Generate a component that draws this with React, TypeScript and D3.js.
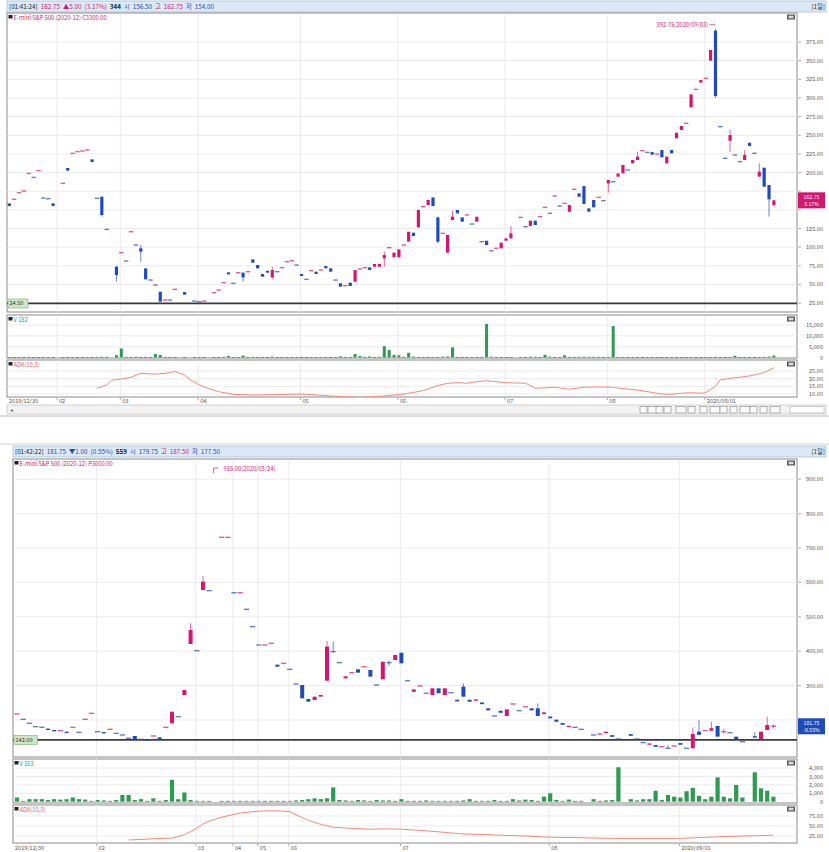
import React from "react";
import * as d3 from "d3";

const UP = "#d3176f";
const DOWN = "#1f4bb8";
const VOLC = "#2f9a52";
const INDC = "#f08a7c";
const GRID = "#e6e6e6";
const FRAME = "#8a8a8a";
const FONT = "'Noto Sans CJK KR', 'DejaVu Sans', sans-serif";

// ---------------- Chart 1 (call) ----------------
const c1Candles: number[][] = [
  [0,158.7,155.1],[1,164.1,164.1],[2,173,173],[3,175.2,175.2],[4,198.9,198.9],[5,193.5,193.5],
  [6,202.5,202.5],[7,165.8,165.8],[8,164.9,164.9],[9,158.7,155.1],[11,185.5,185.5],[12,206.1,202.5],
  [13,225.7,225.7],[14,228,228],[15,228.8,228.8],[16,230.2,230.2],[17,217.7,214.1],[18,165.4,165.4],
  [19,167.6,143.1,168,141],[20,123.8,123.8],[22,73.8,62.6,75,53.7],[23,92.6,92.6],[24,81.4,81.4],
  [25,120.7,120.7],[26,102.8,102.8],[27,98.4,93.9,102.8,80.5],[28,71.6,56.8],[29,55.9,55.9],
  [30,49.2,49.2],[31,40.3,26.9],[32,29.1,29.1],[33,29,29],[34,43.4,43.4],[36,39.8,36.3],
  [38,27.8,27.8],[39,26.9,26.9],[40,27.8,27.8],[42,38.9,38.9],[43,42.5,42.5],[44,52.4,52.4],
  [45,66.2,63.5],[46,51.5,51.5],[47,65.8,65.8],[48,65.8,59.5,65.8,53.7],[49,67.1,67.1],
  [50,83.6,79.1],[51,76,71.6],[52,64,60.4],[53,68.4,65.8],[54,59.5,69.3,73.8,56.8],[55,67.1,67.1],
  [56,72.5,72.5],[57,80.5,80.5],[58,81.8,81.8],[59,76,76],[60,64,61.3],[61,56.8,56.8],
  [62,68.4,68.4],[63,67.1,64],[64,69.3,69.3],[65,74.7,71.6],[66,71.6,67.1],[67,55.9,55.9],
  [68,51.5,47],[69,48.3,48.3],[70,52.4,47.9],[71,53.7,69.3],[72,70.7,70.7],[73,72.5,72.5],
  [74,72.9,69.3],[75,73.8,77.4],[76,73.8,77.4],[77,85,89.4,93.9,73.8],[78,99.3,99.3],
  [79,86.3,92.6],[80,86.3,97],[81,102.8,102.8],[82,107.3,120.7],[83,119.4,114.9],[84,126.5,149.8],
  [85,154.2,154.2],[86,156.5,163.2],[87,166.7,155.1],[88,139.9,107.3,141,105],[89,118.5,118.5],
  [90,92.6,116.3],[91,136.4,140.8,148.9,136.4],[92,149.8,145.3],[93,139.9,134.1],[94,143.1,143.1],
  [95,131,131],[96,134.1,140.8],[97,107.3,107.3],[98,108.6,102.8],[99,95.2,95.2],[100,98.4,98.4],
  [101,98.4,106],[102,108.6,111.8],[103,111.8,118.5,128.3,111.8],[105,139.9,139.9],[106,127.4,127.4],
  [107,128.3,135.5],[108,135.5,129.7],[109,140.8,140.8],[110,153.3,153.3],[111,145.3,145.3],
  [112,168.5,168.5],[113,155.1,155.1],[114,158.7,158.7],[115,147.5,156.5],[116,177.5,177.5],
  [117,172.1,167.6],[118,181.9,157.8],[119,152,147.5],[120,163.2,153.3],[121,166.7,166.7],
  [122,162.3,162.3],[123,185.5,190,190,173],[124,187.7,187.7],[125,194.4,198.9],[126,198.9,210.1],
  [127,203.4,203.4],[128,212.3,216.8],[129,216.8,221.3,228,216.8],[130,229.3,229.3],[131,227,227],
  [132,227.5,223.9],[133,224.8,224.8],[134,230.2,220.4],[135,212.3,221.3],[136,230.2,225.7],
  [137,245.9,253.5],[138,257.1,262.4],[139,266,266],[140,287.4,304.8],[141,311.5,311.5],
  [142,320.5,324],[143,326.3,326.3],[144,350,364.3],[145,390.2,302.6,392.75,300],[146,261.5,261.5],
  [147,219.1,219.1],[148,242.7,250.3,257,228],[149,223.5,223.5],[150,214.6,214.6],
  [151,216.8,223.5,230,216.8],[152,240,235.6],[153,225.8,225.8],[154,194.5,201.2,212.4,194.5],
  [155,206.5,181],[156,183.3,164.1,183.3,140.9],[157,156.5,162.75,162.75,154],
];
const c1Volume: number[] = [
  200,150,100,150,300,100,150,100,150,100,
  0,150,250,100,100,150,100,200,300,350,
  300,0,1100,4200,300,200,400,250,300,200,
  1600,1200,300,200,250,0,200,0,150,100,
  150,0,200,150,300,700,200,150,900,200,
  300,250,200,150,400,150,200,250,200,150,
  150,200,250,200,150,300,200,150,500,200,
  300,1600,700,300,500,200,300,5200,3500,1200,
  1000,300,2200,400,300,200,300,200,300,400,
  500,4700,300,200,300,200,300,250,15500,400,
  300,200,250,200,0,300,250,400,300,200,
  1200,400,300,200,1000,300,250,300,400,300,
  350,300,250,300,14500,300,200,250,200,300,
  200,250,200,150,200,250,200,150,200,150,
  200,150,250,200,150,300,200,150,200,800,
  200,150,300,200,250,300,400,900,
];
const c1IndSlots: number[] = [18,20,21,23,25,27,29,30,32,34,36,37,39,41,43,46,50,54,57,60,63,66,69,72,75,77,81,83,85,88,90,92,94,96,98,100,102,104,106,107,108,110,112,114,115,117,118,121,124,126,129,132,134,136,138,140,142,143,145,146,148,150,152,153,155,156,157];
const c1IndVals: number[] = [13.7,15.9,19,19.8,20.9,23.5,23.1,23,23.5,24.6,22.4,19.6,15.9,13.5,11.5,9.8,9.3,9.6,9.8,10,9.4,8.7,8.2,7.8,8.3,8.7,10,11,12.2,15.5,17,17.4,17,18,18.7,18,17.4,17.2,17,15.5,13.7,14,14.4,13.5,13.1,14,14.4,14.6,14.4,13.5,12.6,11,10,9.8,10.5,10.8,10.5,10.8,15,19.2,20.3,20.9,21.8,22.4,24,25.5,27.2];
const c1PriceTicks: number[] = [25,50,75,100,125,150,175,200,225,250,275,300,325,350,375];
const c1VolTicks: number[] = [0,5000,10000,15000];
const c1IndTicks: number[] = [10,15,20,25];
const c1DateSlots: number[] = [0,10,23,39,60,80,102,123,143];
const c1HeaderTexts: string[] = ["[01:41:24]","162.75","▲5.00","(3.17%)","344","시","156.50","고","162.75","저","154.00"];
const c1LastLines: string[] = ["162.75","3.17%"];

// ---------------- Chart 2 (put) ----------------
const c2Candles: number[][] = [
  [0,217.4,217.4],[1,202,202],[2,190.3,190.3],[3,180.6,180.6],[4,178.7,178.7],[5,175,171],
  [6,171,167],[7,169,169],[8,166,162],[9,178.7,178.7],[10,164.1,164.1],[11,202,202],
  [12,219.4,219.4],[13,166.1,166.1],[14,165,161],[15,172.9,172.9],[16,161.2,161.2],[17,156.4,156.4],
  [18,146.7,146.7],[19,153.5,143.8],[20,143.8,143.8],[21,141.9,141.9],[22,153.5,153.5],
  [23,149.6,141.9],[24,178.7,178.7],[25,190.3,224.2],[26,209.7,209.7],[27,272.7,287.2],
  [28,420.9,461.6,481,420.9],[29,401.6,401.6],[30,578,602.1,618.6,578],[31,576,576],
  [33,731,731],[34,731,731],[35,570,570],[36,570,570],[37,521.7,521.7],[38,471.3,471.3],
  [39,418,418],[40,418,418],[41,422.9,422.9],[42,361,355],[43,364.7,364.7],[44,347.3,347.3],
  [45,304.7,304.7],[46,301.7,263],[47,261,253.3],[48,258.1,267.8],[49,267.8,272.7],
  [50,314.3,413.2,430.6,314.3],[51,398.6,398.6,427.7,398.6],[52,366.7,366.7],[53,321,327],
  [54,337.6,337.6],[55,347.3,337.6],[56,355,355],[57,345.4,326],[58,301.7,301.7],[59,318.2,369.6],
  [60,366.7,366.7,372,358],[61,374.4,388.9],[62,395.7,364.7],[63,314.4,314.4],[64,282,289],
  [65,298.9,298.9],[66,277.6,277.6],[67,272.7,292.1],[68,292.1,277.6],[69,272.7,292.1],
  [70,279.5,279.5],[71,259,254],[72,297,267.9,306.6,267.9],[73,259,253],[74,256,260],[75,251,246],
  [76,234,228],[77,211.7,211.7],[78,227,221],[79,211.7,231],[80,246.6,246.6],[81,227.2,227.2],
  [82,238.8,238.8],[83,234,228],[84,233.9,211.7,248.5,211.7],[85,217,222],[86,210,205],
  [87,201,195],[88,191,186],[89,179,183],[90,178.7,178.7],[91,172.9,172.9],[93,156.4,156.4],
  [94,159.3,159.3],[95,162,166],[96,156,151],[97,144.8,144.8],[99,159,154],[100,144.8,144.8],
  [101,134.2,134.2],[102,128,132],[103,127,122],[104,122.5,122.5],[105,117.7,117.7,128,117.7],
  [106,124.5,124.5],[107,133,128],[108,117.7,117.7],[109,117.7,159.3,178.7,117.7],
  [110,166,157,200,157],[111,169,169],[112,169,176,195,169],[113,182.6,151.6],
  [114,166,166,175,160],[115,163,163],[116,151.6,143.9],[117,137,137],[119,153,149,165,149],
  [120,143.9,166],[121,170.9,185.5,209.7,170.9],[122,179.75,181.75,187.5,177.5],
];
const c2Volume: number[] = [
  500,100,300,300,300,200,300,250,300,500,
  300,250,100,200,150,100,200,800,800,200,
  300,100,400,100,200,2600,300,1100,200,100,
  100,100,0,100,100,100,100,100,100,100,
  100,100,100,100,100,150,200,300,400,300,
  400,1700,200,150,100,200,150,100,200,150,
  150,100,300,100,100,100,150,100,100,100,
  100,100,150,300,100,100,100,200,100,100,
  300,150,250,200,100,600,1000,200,100,250,
  100,100,0,300,100,150,200,4100,0,300,
  150,300,300,1300,200,800,600,500,1250,1650,
  700,300,600,2900,600,400,2000,500,0,3500,
  1600,1300,600,
];
const c2IndSlots: number[] = [18,22,25,27,28,29,30,31,33,35,36,38,40,42,44,45,47,49,51,54,57,60,62,64,66,69,72,75,78,82,86,90,96,102,107,110,113,117,120,122];
const c2IndVals: number[] = [15,18,20,28,36,45,55,62,72,79,82,86,88,88,86,78,64,54,47,44,42,43,42,40,38,34,30,29,27,25,22,21,19,19,19,21,23,25,26,27];
const c2PriceTicks: number[] = [200,300,400,500,600,700,800,900];
const c2VolTicks: number[] = [0,1000,2000,3000,4000];
const c2IndTicks: number[] = [25,50,75];
const c2DateSlots: number[] = [0,13,29,35,39,44,62,86,107];
const c2HeaderTexts: string[] = ["[01:42:22]","181.75","▼1.00","(0.55%)","559","시","179.75","고","187.50","저","177.50"];
const c2LastLines: string[] = ["181.75","-0.55%"];

const dateLabels: string[] = ["2019/12/30","02","03","04","05","06","07","08","2020/09/01"];

function fmtPrice(v: number) { return v.toFixed(2); }
const fmtVol = d3.format(",");

interface Layout {
  id: string;
  left: number; right: number; headerY: number;
  main: [number, number]; vol: [number, number]; ind: [number, number];
  dateY: number;
  xDomain: [number, number]; xRange: [number, number];
  pDomain: [number, number]; pRange: [number, number];
  vDomain: [number, number]; vRange: [number, number];
  iDomain: [number, number]; iRange: [number, number];
  bodyW: number; volW: number;
  headerColors: string[];
  up: boolean;
}

function Chart(props: {
  L: Layout; candles: number[][]; volume: number[]; indSlots: number[]; indVals: number[];
  priceTicks: number[]; volTicks: number[]; indTicks: number[]; dateSlots: number[];
  headerTexts: string[]; title: string; volLabel: string; indLabel: string;
  refPrice: number; refLabel: string; lastLines: string[]; lastValue: number;
  peakSlot: number; peakValue: number; peakText: string; peakLeft: boolean; scroll: boolean;
}) {
  const { L } = props;
  const xs = d3.scaleLinear().domain(L.xDomain).range(L.xRange);
  const ps = d3.scaleLinear().domain(L.pDomain).range(L.pRange);
  const vs = d3.scaleLinear().domain(L.vDomain).range(L.vRange);
  const is = d3.scaleLinear().domain(L.iDomain).range(L.iRange);
  const W = L.right - L.left;

  const line = d3.line<number>().x((_, i) => xs(props.indSlots[i])).y((d) => is(d));

  let prevClose = props.candles[0][1];
  const candleEls = props.candles.map((c, k) => {
    const [s, o, cl] = c;
    const h = c.length > 3 ? c[3] : Math.max(o, cl);
    const lo = c.length > 4 ? c[4] : Math.min(o, cl);
    let col: string;
    if (cl > o) col = UP; else if (cl < o) col = DOWN; else col = cl >= prevClose ? UP : DOWN;
    prevClose = cl;
    const x = xs(s);
    const yTop = ps(Math.max(o, cl));
    const yBot = ps(Math.min(o, cl));
    const doji = Math.abs(yBot - yTop) < 1.3;
    return (
      <g key={k}>
        {(h > Math.max(o, cl) || lo < Math.min(o, cl)) && (
          <line x1={x} x2={x} y1={ps(h)} y2={ps(lo)} stroke={col} strokeWidth={0.9} opacity={0.75} />
        )}
        {doji ? (
          <rect x={x - L.bodyW / 2 - 0.6} y={yTop - 0.7} width={L.bodyW + 1.2} height={1.4} fill={col} opacity={0.7} />
        ) : (
          <rect x={x - L.bodyW / 2} y={yTop} width={L.bodyW} height={yBot - yTop} fill={col} />
        )}
      </g>
    );
  });

  const clipMain = `${L.id}-main`;
  const clipInd = `${L.id}-ind`;
  const hy = L.headerY;
  const lastY = ps(props.lastValue);
  const peakX = xs(props.peakSlot);
  const peakY = ps(props.peakValue);

  return (
    <g fontFamily={FONT}>
      <defs>
        <clipPath id={clipMain}><rect x={L.left} y={L.main[0]} width={W} height={L.main[1] - L.main[0]} /></clipPath>
        <clipPath id={clipInd}><rect x={L.left} y={L.ind[0]} width={W} height={L.ind[1] - L.ind[0]} /></clipPath>
      </defs>
      {/* header */}
      <rect x={L.left} y={hy} width={826 - L.left} height={11} fill="#dbe8f6" stroke="#a9c2dd" strokeWidth={0.8} />
      <text x={L.left + 2} y={hy + 8.3} fontSize={6.3}>
        {props.headerTexts.map((t, i) => (
          <tspan key={i} dx={i === 0 ? 0 : 3} fill={L.headerColors[i]} fontWeight={i === 4 ? 700 : 400}>{t}</tspan>
        ))}
      </text>
      <text x={825} y={hy + 8.3} fontSize={6.3} textAnchor="end" fill="#333">[1일]</text>

      {/* panels */}
      {[L.main, L.vol, L.ind].map((p, i) => (
        <rect key={i} x={L.left} y={p[0]} width={W} height={p[1] - p[0]} fill="#fff" stroke={FRAME} strokeWidth={1} />
      ))}

      {/* horizontal grid main */}
      {props.priceTicks.map((t) => (
        <g key={t}>
          <line x1={L.left} x2={L.right} y1={ps(t)} y2={ps(t)} stroke={GRID} strokeWidth={0.8} />
          <line x1={L.right + 1} x2={L.right + 4} y1={ps(t)} y2={ps(t)} stroke="#999" strokeWidth={0.8} />
          {Math.abs(ps(t) - lastY) > 10 && (
            <text x={823} y={ps(t) + 2} fontSize={5.6} textAnchor="end" fill="#555">{fmtPrice(t)}</text>
          )}
        </g>
      ))}
      {props.volTicks.map((t) => (
        <g key={t}>
          {t > 0 && <line x1={L.left} x2={L.right} y1={vs(t)} y2={vs(t)} stroke={GRID} strokeWidth={0.8} />}
          <text x={823} y={vs(t) + 2} fontSize={5.6} textAnchor="end" fill="#555">{fmtVol(t)}</text>
        </g>
      ))}
      {props.indTicks.map((t) => (
        <g key={t}>
          <line x1={L.left} x2={L.right} y1={is(t)} y2={is(t)} stroke={GRID} strokeWidth={0.8} />
          <text x={823} y={is(t) + 2} fontSize={5.6} textAnchor="end" fill="#555">{t.toFixed(2)}</text>
        </g>
      ))}

      {/* vertical grid + dates */}
      {props.dateSlots.map((s, i) => {
        const gx = i === 0 ? L.left : xs(s) - 1;
        return (
          <g key={i}>
            {i > 0 && [L.main, L.vol, L.ind].map((p, j) => (
              <line key={j} x1={gx} x2={gx} y1={p[0]} y2={p[1]} stroke={GRID} strokeWidth={0.8} />
            ))}
            {i > 0 && <line x1={gx} x2={gx} y1={L.ind[1]} y2={L.ind[1] + 3} stroke="#999" strokeWidth={0.8} />}
            <text x={gx + 2} y={L.dateY} fontSize={5.6} fill="#555">{dateLabels[i]}</text>
          </g>
        );
      })}

      {/* reference line */}
      <line x1={L.left} x2={L.right} y1={ps(props.refPrice)} y2={ps(props.refPrice)} stroke="#3a3a3a" strokeWidth={1.8} />
      <rect x={L.left + 1} y={ps(props.refPrice) - 4.5} width={props.refLabel.length * 3.4 + 3} height={9} fill="#cfe6c6" stroke="#7fae70" strokeWidth={0.6} />
      <text x={L.left + 2.5} y={ps(props.refPrice) + 2} fontSize={5.6} fill="#333">{props.refLabel}</text>

      {/* candles */}
      <g clipPath={`url(#${clipMain})`}>{candleEls}</g>

      {/* peak annotation */}
      {props.peakLeft ? (
        <g>
          <line x1={peakX - 6} x2={peakX} y1={peakY - 4} y2={peakY - 4} stroke={UP} strokeWidth={0.7} />
          <text x={peakX - 7} y={peakY - 2} fontSize={5.8} textAnchor="end" fill={UP}>{props.peakText}</text>
        </g>
      ) : (
        <g>
          <polyline points={`${peakX - 8},${peakY - 1} ${peakX - 8},${peakY - 6} ${peakX - 3},${peakY - 6}`} fill="none" stroke={UP} strokeWidth={0.7} />
          <text x={peakX + 2} y={peakY - 3} fontSize={5.8} fill={UP}>{props.peakText}</text>
        </g>
      )}

      {/* last price box */}
      <rect x={L.right + 1} y={lastY - 8} width={27} height={16} fill={L.up ? UP : DOWN} />
      <text x={L.right + 14.5} y={lastY - 1.5} fontSize={5.2} textAnchor="middle" fill="#fff">{props.lastLines[0]}</text>
      <text x={L.right + 14.5} y={lastY + 5.5} fontSize={5.2} textAnchor="middle" fill="#fff">{props.lastLines[1]}</text>

      {/* volume */}
      {props.volume.map((v, s) => v > 0 ? (
        <rect key={s} x={xs(s) - L.volW / 2} y={vs(v)} width={L.volW} height={Math.max(0.8, vs(0) - vs(v))} fill={VOLC} />
      ) : null)}

      {/* indicator */}
      <g clipPath={`url(#${clipInd})`}>
        <path d={line(props.indVals) || ""} fill="none" stroke={INDC} strokeWidth={1} />
      </g>

      {/* panel titles */}
      <rect x={L.left + 1.5} y={L.main[0] + 2} width={4} height={3.5} fill="#222" />
      <text x={L.left + 6.5} y={L.main[0] + 7} fontSize={5.8} fill={UP}>{props.title}</text>
      <rect x={L.left + 1.5} y={L.vol[0] + 2} width={4} height={3.5} fill="#222" />
      <text x={L.left + 6.5} y={L.vol[0] + 7} fontSize={5.8} fill={VOLC}>{props.volLabel}</text>
      <rect x={L.left + 1.5} y={L.ind[0] + 2} width={4} height={3.5} fill="#222" />
      <text x={L.left + 6.5} y={L.ind[0] + 7} fontSize={5.8} fill="#e0604a">{props.indLabel}</text>
      {[L.main, L.vol, L.ind].map((p, i) => (
        <g key={i}>
          <rect x={L.right - 10} y={p[0] + 1.5} width={8} height={5} fill="#555" />
          <rect x={L.right - 8.5} y={p[0] + 2.7} width={5} height={2.6} fill="#ddd" />
        </g>
      ))}

      {props.scroll && (
        <g>
          <rect x={L.left} y={405} width={826 - L.left} height={9} fill="#f2f2f2" stroke="#c9c9c9" strokeWidth={0.8} />
          <text x={L.left + 3} y={411.5} fontSize={5.5} fill="#666">◂</text>
          {[640, 648, 656, 664, 676, 688, 700, 710, 720, 730, 740, 750, 760, 770].map((bx, i) => (
            <rect key={i} x={bx} y={406.5} width={i % 3 === 1 ? 10 : 7} height={6.5} fill="#fafafa" stroke="#888" strokeWidth={0.6} />
          ))}
          <rect x={790} y={406.5} width={34} height={6.5} fill="#fff" stroke="#aaa" strokeWidth={0.6} />
          <line x1={0} x2={829} y1={416} y2={416} stroke="#bdbdbd" strokeWidth={1} />
        </g>
      )}
    </g>
  );
}

const L1: Layout = {
  id: "c1", left: 7, right: 797, headerY: 1,
  main: [13, 312], vol: [315, 358], ind: [360, 397], dateY: 402.5,
  xDomain: [0, 157], xRange: [9.3, 773.9],
  pDomain: [0, 375], pRange: [321.75, 42],
  vDomain: [0, 15000], vRange: [357.5, 325],
  iDomain: [10, 25], iRange: [394, 371],
  bodyW: 3.2, volW: 3,
  headerColors: ["#222", UP, UP, UP, "#222", DOWN, DOWN, UP, UP, DOWN, DOWN],
  up: true,
};
const L2: Layout = {
  id: "c2", left: 13, right: 797, headerY: 446,
  main: [459, 757], vol: [759, 803], ind: [805, 843], dateY: 850,
  xDomain: [0, 122], xRange: [17, 773.4],
  pDomain: [0, 900], pRange: [788.8, 479.2],
  vDomain: [0, 4000], vRange: [801.7, 768.1],
  iDomain: [25, 75], iRange: [836, 816],
  bodyW: 4, volW: 4.2,
  headerColors: ["#222", DOWN, DOWN, DOWN, "#222", DOWN, DOWN, UP, UP, DOWN, DOWN],
  up: false,
};

export default function App() {
  return (
    <svg width={829} height={852} style={{ position: "absolute", left: 0, top: 0, background: "#fff" }}>
      <rect x={0} y={0} width={829} height={852} fill="#fff" />
      <Chart L={L1} candles={c1Candles} volume={c1Volume} indSlots={c1IndSlots} indVals={c1IndVals}
        priceTicks={c1PriceTicks} volTicks={c1VolTicks} indTicks={c1IndTicks} dateSlots={c1DateSlots}
        headerTexts={c1HeaderTexts} title="E-mini S&P 500 (2020-12) C3300.00" volLabel="V 152" indLabel="ADX(10,3)"
        refPrice={24.5} refLabel="24.50" lastLines={c1LastLines} lastValue={162.75}
        peakSlot={145} peakValue={392.75} peakText="392.75(2020/09/03)" peakLeft={true} scroll={true} />
      <line x1={0} x2={829} y1={444} y2={444} stroke="#cfcfcf" strokeWidth={1} />
      <Chart L={L2} candles={c2Candles} volume={c2Volume} indSlots={c2IndSlots} indVals={c2IndVals}
        priceTicks={c2PriceTicks} volTicks={c2VolTicks} indTicks={c2IndTicks} dateSlots={c2DateSlots}
        headerTexts={c2HeaderTexts} title="E-mini S&P 500 (2020-12) P3000.00" volLabel="V 103" indLabel="ADX(10,3)"
        refPrice={142} refLabel="142.00" lastLines={c2LastLines} lastValue={181.75}
        peakSlot={33} peakValue={915} peakText="915.00(2020/03/24)" peakLeft={false} scroll={false} />
    </svg>
  );
}
